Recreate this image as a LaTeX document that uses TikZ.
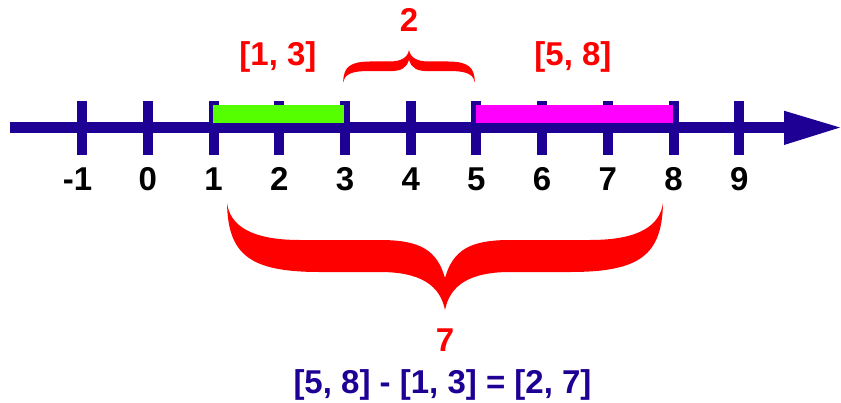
\documentclass[tikz,border=0pt]{standalone}
\usepackage{fontspec}
\setmainfont{Liberation Sans}
\definecolor{axisblue}{RGB}{30,0,148}
\definecolor{bargreen}{RGB}{85,255,0}
\definecolor{barmag}{RGB}{255,0,255}
\definecolor{bracered}{RGB}{255,0,0}
\tikzset{
  ticklbl/.style={anchor=base, inner sep=0pt, font=\fontsize{33}{33}\selectfont\bfseries, text=black},
  redlbl/.style={anchor=base, inner sep=0pt, font=\fontsize{33}{33}\selectfont\bfseries, text=bracered},
  formula/.style={anchor=base, inner sep=0pt, font=\fontsize{33}{33}\selectfont\bfseries, text=axisblue},
  tickmark/.style={draw=axisblue, line width=10pt},
  bracefill/.style={fill=bracered, draw=none}
}
\newcommand{\bracepath}{%
  (-218,107) .. controls (-217,55) and (-195,38) .. (-125,38) -- (-65,38)
  .. controls (-25,38) and (-5,25) .. (0,0)
  .. controls (5,25) and (25,38) .. (65,38) -- (125,38)
  .. controls (195,38) and (217,55) .. (218,107)
  .. controls (215,85) and (195,70) .. (145,70) -- (65,70)
  .. controls (25,70) and (8,60) .. (0,32)
  .. controls (-8,60) and (-25,70) .. (-65,70) -- (-145,70)
  .. controls (-195,70) and (-215,85) .. (-218,107) -- cycle}
\begin{document}
\begin{tikzpicture}[x=1pt,y=-1pt]
\useasboundingbox (0,0) rectangle (841,402);
% axis
\draw[axisblue, line width=11pt] (10,127.5) -- (786,127.5);
\fill[axisblue] (784,110.7) -- (840,127.5) -- (784,145) -- cycle;
% ticks
\foreach \n in {-1,0,...,9} {
  \draw[tickmark] ({147.9+65.7*\n},101) -- ({147.9+65.7*\n},155);
}
% bars
\fill[bargreen] (212.7,105) rectangle (344.3,123);
\fill[barmag] (475.7,105) rectangle (672.7,123);
% tick labels
\node[ticklbl] (lblm1) at (77.5,190) {-1};
\foreach \n in {0,...,9} {
  \node[ticklbl] (lbl\n) at ({147.9+65.7*\n},190) {\n};
}
% top labels and brace
\node[redlbl] (int13) at (278,65) {[1, 3]};
\node[redlbl] (int58) at (573,65) {[5, 8]};
\node[redlbl] (gap) at (409,31.7) {2};
\begin{scope}[shift={(409,50)}, scale=0.302]
  \fill[bracefill] \bracepath;
\end{scope}
% big brace
\begin{scope}[shift={(445,310)}, yscale=-1]
  \fill[bracefill] \bracepath;
\end{scope}
\node[redlbl] (seven) at (445,351.7) {7};
\node[formula] (eq) at (442.5,393) {[5, 8] - [1, 3] = [2, 7]};
\end{tikzpicture}
\end{document}
